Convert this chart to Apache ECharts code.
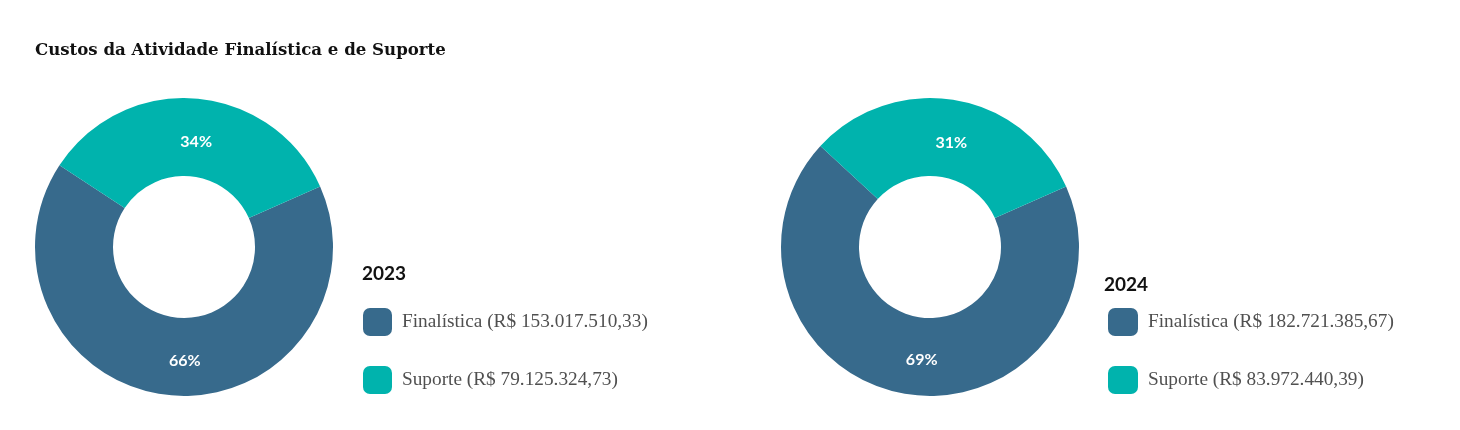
<!DOCTYPE html>
<html>
<head>
<meta charset="utf-8">
<script src="https://cdn.jsdelivr.net/npm/echarts@6/dist/echarts.min.js"></script>
<style>
html,body{margin:0;padding:0;background:#fff;}
#chart{width:1460px;height:430px;}
</style>
</head>
<body>
<div id="chart"></div>
<script>
var chartTitle = 'Custos da Atividade Finalística e de Suporte';
var categories = ['Finalística', 'Suporte'];
var years = ['2023', '2024'];
var values2023 = [153017510.33, 79125324.73];
var values2024 = [182721385.67, 83972440.39];
var colors = ['#376a8c', '#00b3ad'];

function brl(v) {
  var parts = v.toFixed(2).split('.');
  var intPart = parts[0].replace(/\B(?=(\d{3})+(?!\d))/g, '.');
  return 'R$ ' + intPart + ',' + parts[1];
}
function legendFormatter(vals) {
  return function (name) {
    var i = categories.indexOf(name);
    return name + ' (' + brl(vals[i]) + ')';
  };
}
var labelOffsets = [[10, 1], [3, 7]];
function pieData(vals) {
  return categories.map(function (c, i) {
    return { name: c, value: vals[i], label: { offset: labelOffsets[i] } };
  });
}

var chart = echarts.init(document.getElementById('chart'));
var labelStyle = {
  show: true,
  position: 'inside',
  color: '#ffffff',
  fontFamily: 'Lato',
  fontWeight: 'bold',
  fontSize: 16,
  formatter: function (p) { return Math.round(p.percent) + '%'; }
};
var legendText = { fontFamily: 'Liberation Serif', fontSize: 19.3, color: '#505050', padding: [0, 0, 0, 5] };

chart.setOption({
  backgroundColor: '#ffffff',
  color: colors,
  animation: false,
  title: [
    { text: chartTitle, left: 35, top: 42, padding: 0,
      textStyle: { fontFamily: 'DejaVu Serif', fontWeight: 'bold', fontSize: 16.6, color: '#111' } },
    { text: years[0], left: 362, top: 264, padding: 0,
      textStyle: { fontFamily: 'Lato', fontWeight: 'bold', fontSize: 19, color: '#111' } },
    { text: years[1], left: 1104, top: 275, padding: 0,
      textStyle: { fontFamily: 'Lato', fontWeight: 'bold', fontSize: 19, color: '#111' } }
  ],
  legend: [
    { orient: 'vertical', left: 363, top: 308, padding: 0, itemWidth: 29, itemHeight: 28, itemGap: 30,
      icon: 'roundRect', data: categories, formatter: legendFormatter(values2023), textStyle: legendText,
      selectedMode: false },
    { orient: 'vertical', left: 1108, top: 308, padding: 0, itemWidth: 30, itemHeight: 28, itemGap: 30,
      icon: 'roundRect', data: categories, formatter: legendFormatter(values2024), textStyle: legendText,
      selectedMode: false }
  ],
  series: [
    { type: 'pie', name: years[0], center: [184, 247], radius: [71, 149], startAngle: 24, clockwise: true,
      avoidLabelOverlap: false, label: labelStyle, labelLine: { show: false }, data: pieData(values2023) },
    { type: 'pie', name: years[1], center: [930, 247], radius: [71, 149], startAngle: 24, clockwise: true,
      avoidLabelOverlap: false, label: labelStyle, labelLine: { show: false }, data: pieData(values2024) }
  ]
});
</script>
</body>
</html>
